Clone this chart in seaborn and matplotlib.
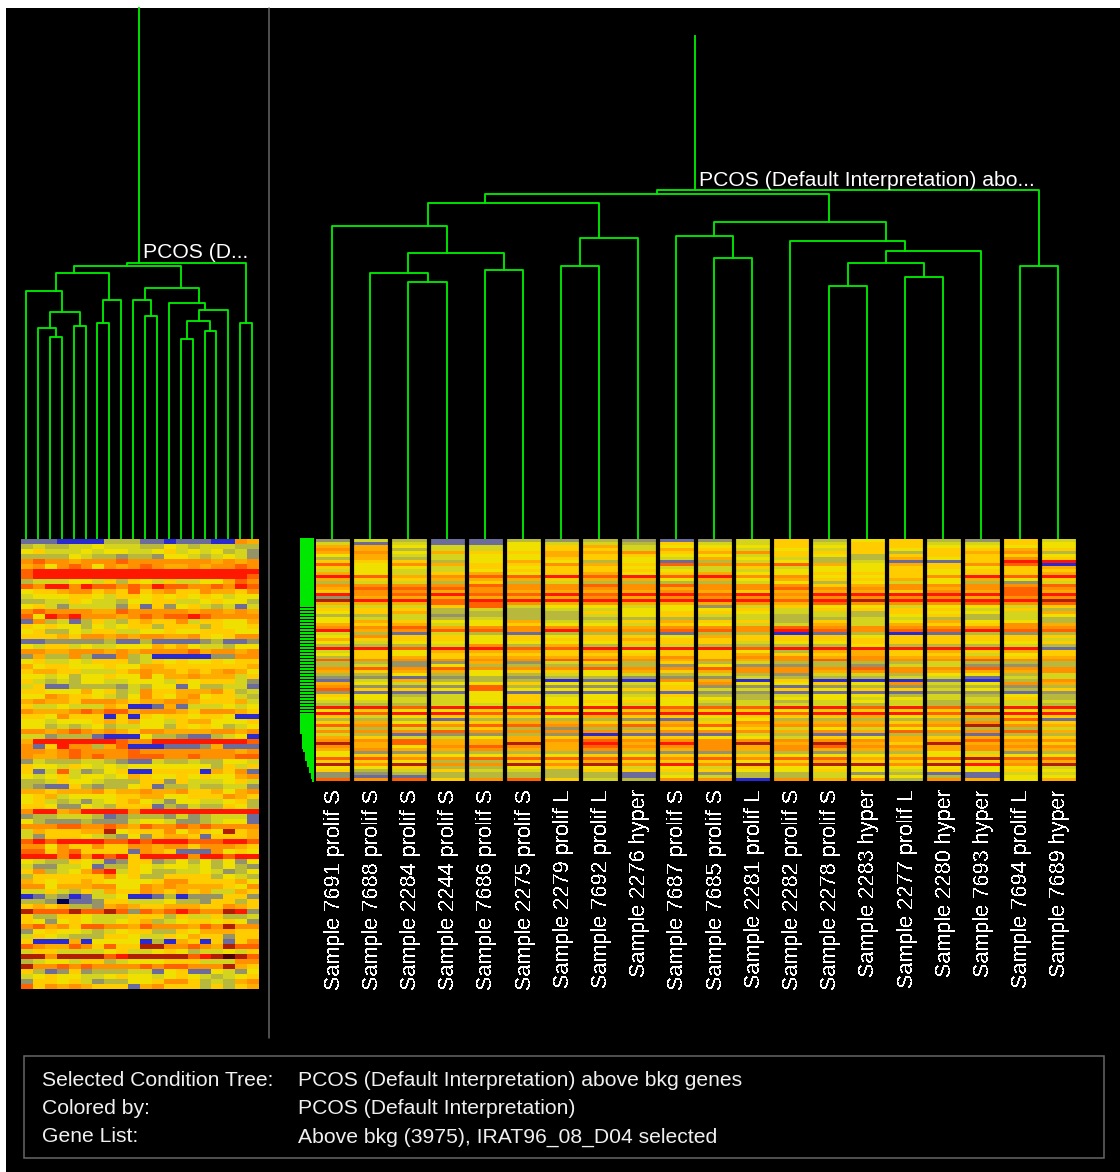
import matplotlib
matplotlib.use("Agg")
import matplotlib.pyplot as plt
from matplotlib.colors import ListedColormap
from matplotlib.patches import Rectangle
import seaborn as sns
import pandas as pd

sns.set_theme(style="white")
plt.rcParams['font.family'] = ['Liberation Sans', 'DejaVu Sans']

W, H = 1120, 1172

# colour codes used in the rows below: blue, slate, gray, olive ... red, dark red, navy, maroon
level_colors = ['#2a2ad0', '#6c6c9c', '#949468', '#b8b83c', '#d4d41e', '#f0e000', '#ffcc00',
                '#ffac00', '#ff9000', '#ff6000', '#ff1800', '#b02000', '#000050', '#500000']

left_rows = [
    "11100 00333 11011 10087", "34334 45444 33543 44433", "56444 54554 45645 45342", "33335 43323 32554 34542",
    "89887 88898 88888 87878", "78589 85878 98778 78898", "9aaaa aaaaa aaaaa aaaaa", "9aaaa aaaaa aaaaa aaaa9",
    "34445 54636 54644 55798", "98aa8 a9989 8a998 898a9", "56678 86769 67866 87768", "45556 65466 56565 65455",
    "33446 54435 56644 56553", "56424 44426 16256 43414", "89888 87798 88887 88787", "95a9a 88878 9899a 98888",
    "18341 36436 76684 66557", "65655 35456 63666 36556", "56335 46644 55655 66655", "66676 88787 88778 65688",
    "11222 22311 31111 23112", "54664 54455 57675 44355", "88778 88787 88889 78878", "27338 31183 40000 02288",
    "56445 46663 46565 56566", "75665 55655 77666 66667", "67766 44467 87767 67875", "55453 55655 85778 77746",
    "64343 55445 55465 66642", "46113 33324 35515 33441", "66555 75634 86677 78634", "55876 65435 86578 56643",
    "78776 88876 77887 66674", "64454 44760 01714 44545", "87778 98997 88876 88876", "66586 66060 65665 66500",
    "55455 56767 55467 75556", "55343 45344 55365 65345", "88789 87876 88777 78878", "44233 31000 53321 13450",
    "7aaaa aaa98 8aaaa aaaa9", "816a8 83790 00111 27111", "88789 88889 88888 88878", "87789 89889 99889 88899",
    "24333 44321 14334 33554", "65546 54545 55555 53646", "61494 23560 06666 07681", "54564 55457 65565 65578",
    "33465 54333 66264 44564", "32116 32335 61334 33442", "77677 78677 87786 67578", "56745 55566 77556 66876",
    "56434 24567 54255 44563", "66522 54366 61324 33653", "8aa78 aaaa8 aaaaa aaaaa", "23344 43123 33242 34441",
    "53222 32224 55422 34551", "88899 88987 98898 98888", "47666 77b56 66857 65b67", "42666 54325 26776 16667",
    "9a9aa aa99a 9aaa9 99aa9", "88586 68668 87886 88876", "99689 66661 87611 18565", "aaa8a 8a9a6 aaaa8 aa9aa",
    "54336 54126 62353 53525", "42244 51336 54554 53532", "68345 79a46 53344 54235", "36666 66856 33666 63543",
    "76566 76555 56886 66675", "88577 78855 87877 77658", "44643 64766 87676 74476", "01320 14450 01302 22662",
    "332c1 12664 44533 26636", "67673 32787 66777 66876", "b999b 99b92 989a9 88ba2", "63366 54446 66364 46334",
    "65256 54456 73456 65652", "89786 99887 98887 98b88", "25655 43456 63365 77766", "46543 33665 44657 66266",
    "60007 05555 03076 06168", "98779 86966 bb889 87b99", "46644 44564 45653 44546", "bb8bb bb9ab bbbb9 abdb9",
    "34554 66345 55666 44488", "b8898 98888 98998 88b76", "63126 23334 41561 15425", "45655 44565 54565 43456",
    "26656 42335 56886 34378", "96878 76661 78666 36367",
]

right_rows = [
    "24311 32321 24635 63264", "41411 54436 44646 64465", "77544 56745 55656 65555", "87344 56647 64546 56676",
    "78576 67786 78666 36783", "57445 57665 54653 66665", "37345 56654 75433 75686", "66635 75351 34534 116aa",
    "95876 68769 88975 76890", "65546 56654 46455 66567", "45445 66665 44555 65666", "75467 56756 75566 65667",
    "a9789 9a9a9 a8855 68a9a", "76677 76775 75766 75756", "34436 34333 34535 45324", "88889 88989 88867 88889",
    "79998 88887 88988 87898", "68878 77778 76777 68797", "a89a9 9a9aa 9a8aa aaa9a", "27777 77878 88788 88788",
    "baa9a aaaaa aa9ab aaaab", "77799 87877 78798 88989", "44469 45545 24655 45546", "66634 34455 56466 66463",
    "56733 33656 65443 65547", "33423 33456 44343 56345", "54434 33333 34334 43343", "57655 74467 66364 57553",
    "76745 65546 54474 76687", "88978 88778 88988 88888", "a7899 8a889 98a98 99a99", "43143 13331 33013 01323",
    "58665 65665 76665 66666", "76665 66676 66666 66664", "54555 55566 64556 66556", "33348 37344 33335 33343",
    "aa9aa 99aaa a9aaa aaaa1", "46577 76756 65377 67676", "56566 66666 67667 66456", "36767 77778 68878 77767",
    "98888 89987 87898 88988", "33227 24636 34333 34333", "34253 33332 52232 44223", "89898 88988 98889 88988",
    "76775 66576 78878 87778", "33535 34543 43244 35534", "22123 23322 24333 44144", "14733 30108 70600 01038",
    "75455 65545 85565 84587", "82229 32236 22123 23323", "96659 55566 44656 64536", "21115 11131 22111 12212",
    "65345 64546 33455 34353", "55445 65555 53554 54463", "44445 65665 44345 43444", "33344 45545 34443 43343",
    "aa9aa a9aa9 99aa9 a99aa", "56556 66567 66566 66456", "a9aa9 9aa9a aa9aa a9baa", "64566 65766 56667 56766",
    "33313 33321 45333 33391", "67566 77667 68777 67866", "98989 98898 97888 88b87", "43446 32336 56454 55334",
    "88898 88878 88787 98897", "43122 32011 14311 33133", "76445 76766 55465 76766", "88977 78988 88888 77988",
    "b7977 b7a7a 8b7b7 6b776", "87589 87988 87898 87888", "78778 77877 87877 77877", "52233 33232 23323 35423",
    "56655 65656 66555 65655", "99889 99998 98997 89b99", "66533 66766 65676 66677", "b8b88 b8b8a 8b8bb 8ba8b",
    "55633 56545 46555 55554", "63464 43666 65565 46565", "22333 33314 23342 31144", "21133 33315 43345 53155",
    "98968 96438 80878 38757",
]

sample_names = ["Sample 7691 prolif S", "Sample 7688 prolif S", "Sample 2284 prolif S", "Sample 2244 prolif S",
                "Sample 7686 prolif S", "Sample 2275 prolif S", "Sample 2279 prolif L", "Sample 7692 prolif L",
                "Sample 2276 hyper", "Sample 7687 prolif S", "Sample 7685 prolif S", "Sample 2281 prolif L",
                "Sample 2282 prolif S", "Sample 2278 prolif S", "Sample 2283 hyper", "Sample 2277 prolif L",
                "Sample 2280 hyper", "Sample 7693 hyper", "Sample 7694 prolif L", "Sample 7689 hyper"]

# (node, node, height) - new nodes are numbered from 20 on
left_merges = [(2, 3, 202), (1, 20, 211), (4, 5, 213), (21, 22, 227), (0, 23, 248), (6, 7, 216), (25, 8, 239),
               (24, 26, 266), (10, 11, 223), (9, 28, 239), (13, 14, 200), (15, 16, 208), (30, 31, 218), (32, 17, 229),
               (12, 33, 236), (29, 34, 251), (27, 35, 273), (18, 19, 216), (36, 37, 276)]
left_root_height = 531

right_merges = [(2, 3, 257), (1, 20, 266), (4, 5, 269), (21, 22, 286), (0, 23, 313), (6, 7, 273), (25, 8, 301),
                (24, 26, 336), (10, 11, 281), (9, 28, 303), (13, 14, 253), (15, 16, 262), (30, 31, 276), (32, 17, 288),
                (12, 33, 298), (29, 34, 317), (27, 35, 345), (18, 19, 273), (36, 37, 349)]
right_root_height = 503

# gene tree strip beside the right panel
strip_widths = [14] * 65 + [12] * 5 + [10.7] + [9] * 3 + [7] * 2 + [5] * 2 + [3] * 2 + [1.7]

legend_keys = ["Selected Condition Tree:", "Colored by:", "Gene List:"]
legend_values = ["PCOS (Default Interpretation) above bkg genes", "PCOS (Default Interpretation)",
                 "Above bkg (3975), IRAT96_08_D04 selected"]

GREEN = '#00e800'
GRAY = '#666666'
FS = 15.2


def parse(rows):
    return pd.DataFrame([[int(c, 16) for c in r.replace(' ', '')] for r in rows])


def px_axes(x0, y0, x1, y1):
    return fig.add_axes([x0 / W, 1 - y1 / H, (x1 - x0) / W, (y1 - y0) / H])


def draw_tree(ax, merges, first_x, pitch, base_y, root_height):
    # a node sits at the mean of its leaves
    leaves = {i: [first_x + i * pitch] for i in range(20)}
    tops = {i: 0 for i in range(20)}
    line = dict(color=GREEN, lw=1.35, solid_capstyle='projecting')
    node = 20
    for a, b, h in merges:
        xa, xb = sum(leaves[a]) / len(leaves[a]), sum(leaves[b]) / len(leaves[b])
        ax.plot([xa, xa, xb, xb], [base_y - tops[a], base_y - h, base_y - h, base_y - tops[b]], **line)
        leaves[node] = leaves[a] + leaves[b]
        tops[node] = h
        node += 1
    root = node - 1
    x = sum(leaves[root]) / len(leaves[root])
    ax.plot([x, x], [base_y - tops[root], base_y - root_height], **line)


fig = plt.figure(figsize=(W / 100, H / 100), dpi=100, facecolor='white')

# whole page in pixel units, for the frame, trees and notes
page = fig.add_axes([0, 0, 1, 1])
page.set_xlim(0, W)
page.set_ylim(H, 0)
page.axis('off')
page.add_patch(Rectangle((6, 8), W - 6, H - 8, color='black', lw=0))
page.plot([269, 269], [8, 1038], color=GRAY, lw=1.1)
page.add_patch(Rectangle((24, 1055.5), 1080, 102.5, fill=False, edgecolor=GRAY, lw=1.1))

draw_tree(page, left_merges, 26, 11.9, 539, left_root_height)
draw_tree(page, right_merges, 332, 38.2, 539, right_root_height)
page.text(143, 252, "PCOS (D...", color='white', fontsize=FS, va='center', ha='left')
page.text(699, 181, "PCOS (Default Interpretation) abo...", color='white', fontsize=FS, va='center', ha='left')

for y, key, value in zip([1081, 1109, 1137], legend_keys, legend_values):
    page.text(42, y, key, color='#f0f0f0', fontsize=FS, va='center', ha='left')
    page.text(298, y, value, color='#f0f0f0', fontsize=FS, va='center', ha='left')

cmap = ListedColormap(level_colors)
vmin, vmax = -0.5, len(level_colors) - 0.5

ax_left = px_axes(21, 539, 259, 989)
sns.heatmap(parse(left_rows), ax=ax_left, cmap=cmap, vmin=vmin, vmax=vmax, cbar=False,
            xticklabels=False, yticklabels=False)

ax_right = px_axes(316, 539, 316 + 20 * 38.2, 781)
sns.heatmap(parse(right_rows), ax=ax_right, cmap=cmap, vmin=vmin, vmax=vmax, cbar=False,
            xticklabels=False, yticklabels=False)
gap = 4.2 / 38.2
for i in range(1, 21):
    ax_right.axvline(i - gap / 2, color='black', lw=4.2 * 0.72)
ax_right.set_xticks([i + 0.5 - gap / 2 + 0.03 for i in range(20)])
ax_right.set_xticklabels(sample_names, rotation=90, color='white', fontsize=15.6, ha='center', va='top')
ax_right.tick_params(axis='x', length=0, pad=6)
for lab in ax_right.get_xticklabels():
    lab.set_antialiased(False)

ax_strip = px_axes(300, 538, 314, 782)
strip = pd.DataFrame({'row': range(len(strip_widths)), 'width': strip_widths})
sns.barplot(data=strip, x='width', y='row', orient='h', color=GREEN, saturation=1, width=0.85,
            edgecolor=GREEN, linewidth=0, ax=ax_strip)
ax_strip.set_xlim(14, 0)
ax_strip.axis('off')

fig.savefig("out.png", dpi=100, facecolor=fig.get_facecolor())
